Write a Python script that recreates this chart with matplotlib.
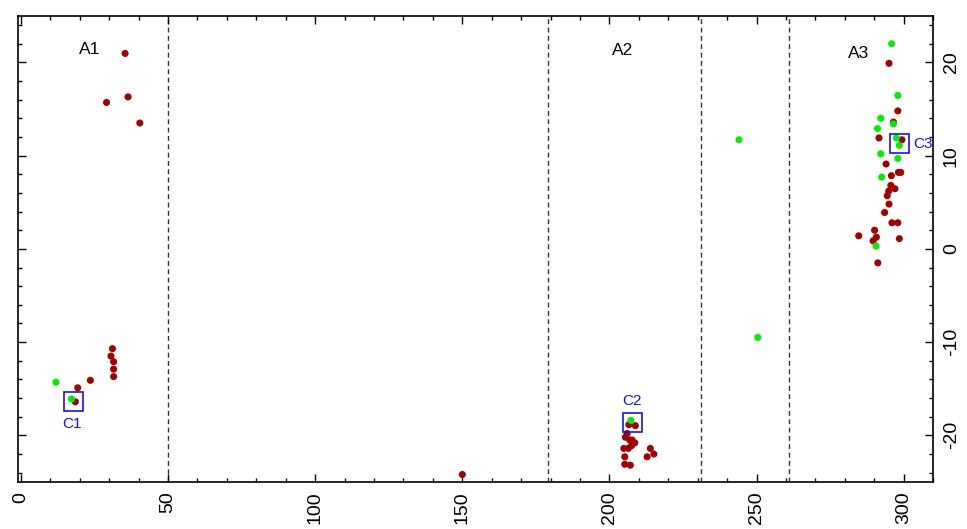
import numpy as np
import matplotlib
matplotlib.use('Agg')
import matplotlib.pyplot as plt
from matplotlib.ticker import MultipleLocator
from matplotlib.patches import Rectangle

plt.rcParams['font.family'] = ['Liberation Sans', 'DejaVu Sans']
plt.rcParams['axes.unicode_minus'] = False

# dark red points
red_x = [35.4, 29.1, 36.4, 40.4,
         31.1, 30.6, 31.5, 31.5, 31.5, 23.6, 19.3, 18.5,
         150.0,
         206.6, 208.8, 205.4, 206.9, 208.6, 204.9, 207.5, 206.4, 205.2, 205.2, 207.1,
         213.9, 212.8, 215.1, 206.0, 207.7,
         295.0, 298.0, 296.5, 291.6, 299.4, 294.0, 295.8, 298.2, 299.0, 295.6, 297.0,
         294.9, 294.4, 295.0, 293.5, 296.0, 298.0, 290.1, 284.7, 290.7, 289.6, 298.5, 291.2]
red_y = [20.96, 15.7, 16.3, 13.5,
         -10.7, -11.5, -12.1, -12.9, -13.7, -14.1, -14.9, -16.4,
         -24.2,
         -18.85, -18.96, -20.2, -20.5, -20.8, -21.4, -21.1, -21.4, -22.3, -23.1, -23.2,
         -21.4, -22.3, -22.0, -19.8, -20.5,
         19.9, 14.8, 13.6, 11.9, 11.7, 9.1, 7.85, 8.2, 8.2, 6.8, 6.45,
         6.2, 5.7, 4.8, 3.9, 2.8, 2.8, 2.0, 1.4, 1.25, 0.86, 1.1, -1.5]

# green points
green_x = [11.9, 17.2, 207.3, 244.0, 250.4,
           295.9, 298.0, 292.2, 296.5, 291.1, 297.5, 298.5, 292.2, 298.0, 292.5, 290.6]
green_y = [-14.3, -16.1, -18.4, 11.7, -9.5,
           22.0, 16.45, 14.0, 13.4, 12.9, 11.9, 11.1, 10.2, 9.7, 7.7, 0.3]

# region boundaries and labels
bounds = [50, 179, 231, 261]
area_names = ['A1', 'A2', 'A3']
area_x = [23.5, 204.4, 284.5]
area_y = [21.4, 21.3, 21.0]

# highlighted points
c_names = ['C1', 'C2', 'C3']
c_x = [17.9, 207.8, 298.7]
c_y = [-16.4, -18.6, 11.35]

fig = plt.figure(figsize=(9.67, 5.29), dpi=100)
ax = fig.add_axes([0.0186, 0.0889, 0.9464, 0.8813])

for b in bounds:
    ax.axvline(b, color='#333333', linestyle=(0, (3.5, 2.5)), linewidth=1.0, zorder=1)

ax.scatter(red_x, red_y, s=26, color='#a50000', edgecolors='none', zorder=3)
ax.scatter(green_x, green_y, s=26, color='#00ee00', edgecolors='none', zorder=4)

for name, x, y in zip(area_names, area_x, area_y):
    ax.text(x, y, name, fontsize=12.5, ha='center', va='center', color='black')

# boxes are about 19 px wide -> in data units
bw = 19 / 2.94
bh = 19 / 9.3
for name, x, y in zip(c_names, c_x, c_y):
    ax.add_patch(Rectangle((x - bw / 2, y - bh / 2), bw, bh, fill=False,
                           edgecolor='#1010ff', linewidth=1.2, zorder=5))
ax.text(17.4, -18.75, 'C1', color='#1010ff', fontsize=11, ha='center', va='center')
ax.text(207.7, -16.3, 'C2', color='#1010ff', fontsize=11, ha='center', va='center')
ax.text(303.3, 11.3, 'C3', color='#1010ff', fontsize=11, ha='left', va='center')

ax.set_xlim(-1, 310)
ax.set_ylim(-25, 25)
ax.xaxis.set_major_locator(MultipleLocator(50))
ax.xaxis.set_minor_locator(MultipleLocator(10))
ax.yaxis.set_major_locator(MultipleLocator(10))
ax.yaxis.set_minor_locator(MultipleLocator(2))

ax.tick_params(which='both', direction='in', top=True, right=True, left=True, bottom=True,
               labelleft=False, labelright=True, labelsize=14, width=1)
ax.tick_params(which='major', length=6, pad=7)
ax.tick_params(which='minor', length=3)
for lab in ax.get_xticklabels():
    lab.set_rotation(90)
for lab in ax.get_yticklabels():
    lab.set_rotation(90)
    lab.set_va('center')

for s in ax.spines.values():
    s.set_linewidth(1.2)

fig.savefig('out.png', dpi=100)
